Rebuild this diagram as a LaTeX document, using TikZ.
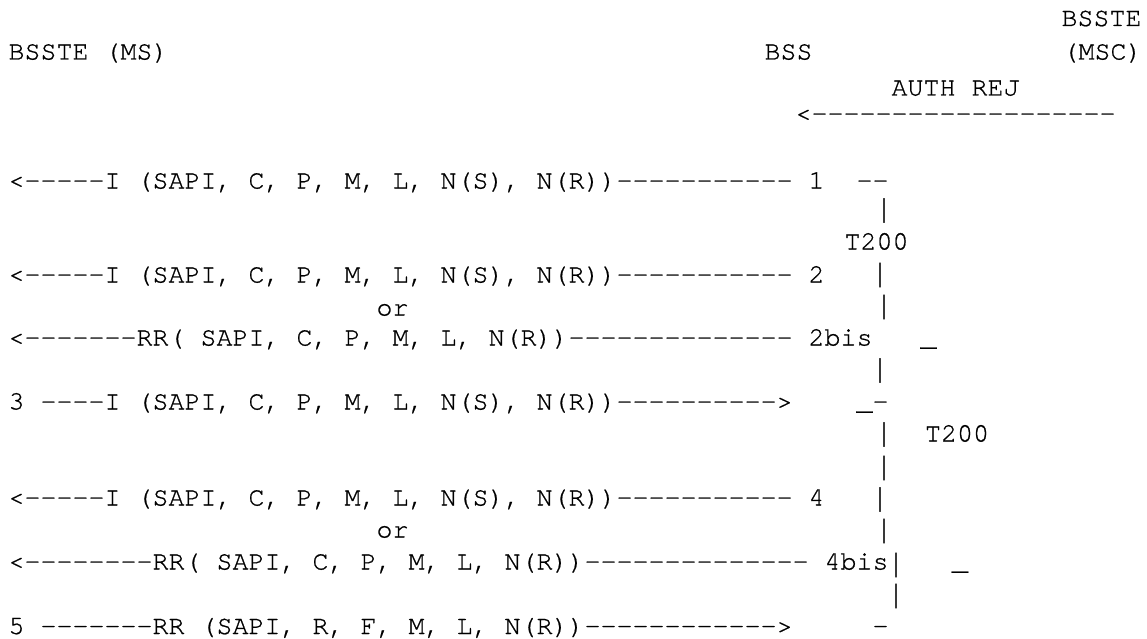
\documentclass[tikz,border=0pt]{standalone}
\usepackage{fontspec}
\usepackage{graphicx}
\newfontfamily\cour[FakeBold=0.7]{texgyrecursor-regular.otf}
\begin{document}
\begin{tikzpicture}[x=1pt,y=-1pt,
  txt/.style={anchor=base west, inner sep=0pt, outer sep=0pt, text=black,
    font=\cour\fontsize{26.67pt}{32pt}\selectfont},
  bar/.style={txt, anchor=center}]
\newcommand{\vbar}{\scalebox{1}[1.25]{|}}
\fill[white] (0,0) rectangle (1147,639);
\useasboundingbox (0,0) rectangle (1147,639);
% header
\node[txt] (hbsste) at (1061.5,26) {BSSTE};
\node[txt] (hms)    at (8.5,59.5) {BSSTE (MS)};
\node[txt] (hbss)   at (764.5,59.5) {BSS};
\node[txt] (hmsc)   at (1062.5,59.5) {(MSC)};
\node[txt] (auth)   at (891.5,95.5) {AUTH REJ};
\node[txt] (autha)  at (795.5,121.5) {<-------------------};
% line 1
\node[txt] (l1)  at (8.5,188.5) {<-----I (SAPI, C, P, M, L, N(S), N(R))-----------};
\node[txt] (l1n) at (808.5,188.5) {1};
\node[txt] (l1d) at (856.5,188.5) {--};
\node[bar] (b1)  at (884,210.5) {\vbar};
\node[txt] (t1)  at (844.5,249.5) {T200};
% line 2
\node[txt] (l2)  at (8.5,282.5) {<-----I (SAPI, C, P, M, L, N(S), N(R))-----------};
\node[txt] (l2n) at (808.5,282.5) {2};
\node[bar] (b2)  at (880,275) {\vbar};
\node[txt] (or1) at (376.5,315.5) {or};
\node[bar] (b3)  at (884,307) {\vbar};
% line 2bis
\node[txt] (l2b)  at (8.5,345.5) {<-------RR( SAPI, C, P, M, L, N(R))--------------};
\node[txt] (l2bn) at (808.5,345.5) {2bis};
\node[txt] (u1)   at (920.5,345.5) {\_};
\node[bar] (b4)   at (880,370.5) {\vbar};
% line 3
\node[txt] (l3)  at (8.5,409.5) {3 ----I (SAPI, C, P, M, L, N(S), N(R))---------->};
\node[txt] (l3e) at (856.5,409.5) {\_-};
\node[bar] (b5)  at (884,434.5) {\vbar};
\node[txt] (t2)  at (925,441.5) {T200};
\node[bar] (b6)  at (884,468) {\vbar};
% line 4
\node[txt] (l4)  at (8.5,505.5) {<-----I (SAPI, C, P, M, L, N(S), N(R))-----------};
\node[txt] (l4n) at (808.5,505.5) {4};
\node[bar] (b7)  at (880,499.5) {\vbar};
\node[txt] (or2) at (376.5,537.5) {or};
\node[bar] (b8)  at (884,531) {\vbar};
% line 4bis
\node[txt] (l4b)  at (8.5,569.5) {<--------RR( SAPI, C, P, M, L, N(R))--------------};
\node[txt] (l4bn) at (824.5,569.5) {4bis};
\node[bar] (b9)   at (896,565) {\vbar};
\node[txt] (u2)   at (952,569.5) {\_};
\node[bar] (b10)  at (896,596) {\vbar};
% line 5
\node[txt] (l5)  at (8.5,634) {5 -------RR (SAPI, R, F, M, L, N(R))------------>};
\node[txt] (l5e) at (872.5,634) {-};
\end{tikzpicture}
\end{document}
